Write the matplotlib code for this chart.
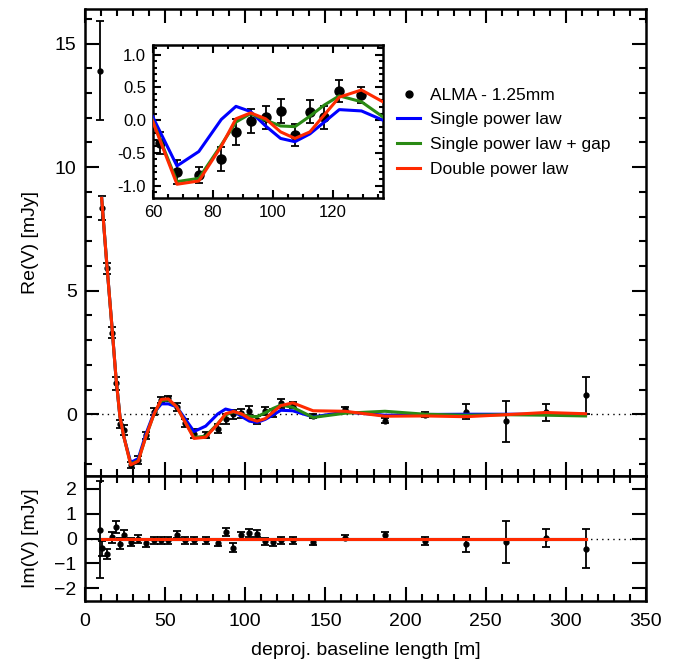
import numpy as np
import matplotlib
matplotlib.use("Agg")
import matplotlib.pyplot as plt
from matplotlib.ticker import MultipleLocator
from matplotlib.lines import Line2D

plt.rcParams['font.family'] = ['Liberation Sans', 'DejaVu Sans']

# ---------------- data ----------------
re_x = [9.4, 10.4, 13.7, 17.0, 19.3, 21.8, 24.2, 28.5, 33.2, 38.0, 43.0, 47.6, 52.0,
        57.2, 62.4, 68.0, 75.3, 82.8, 87.7, 92.6, 97.6, 102.6, 107.4, 112.4, 117.2,
        122.2, 129.6, 142.3, 162.2, 187.1, 212.3, 237.5, 262.5, 287.4, 312.3]
re_y = [13.9, 8.35, 5.9, 3.3, 1.25, -0.4, -0.65, -2.06, -1.86, -0.85, 0.1, 0.57, 0.64,
        0.3, -0.35, -0.79, -0.84, -0.59, -0.18, -0.01, 0.04, 0.14, -0.23, 0.13, 0.04,
        0.44, 0.38, -0.06, 0.23, -0.27, -0.03, 0.1, -0.29, 0.07, 0.77]
re_err = [2.0, 0.5, 0.22, 0.22, 0.27, 0.17, 0.2, 0.12, 0.15, 0.15, 0.15, 0.12, 0.1,
          0.15, 0.17, 0.18, 0.12, 0.18, 0.2, 0.18, 0.18, 0.18, 0.17, 0.17, 0.17,
          0.17, 0.12, 0.08, 0.08, 0.1, 0.1, 0.3, 0.82, 0.36, 0.75]

im_y = [0.36, -0.4, -0.64, 0.05, 0.47, -0.21, 0.16, -0.15, -0.01, -0.2, -0.08, -0.07, -0.08,
        0.16, -0.07, -0.07, -0.07, -0.17, 0.27, -0.37, 0.13, 0.23, 0.2, -0.11, -0.16,
        -0.08, -0.07, -0.16, 0.03, 0.13, -0.11, -0.24, -0.13, 0.03, -0.41]
im_err = [1.97, 0.3, 0.2, 0.22, 0.25, 0.23, 0.17, 0.17, 0.17, 0.13, 0.15, 0.15, 0.15,
          0.14, 0.15, 0.15, 0.15, 0.15, 0.15, 0.17, 0.15, 0.15, 0.15, 0.15, 0.15,
          0.15, 0.15, 0.1, 0.1, 0.15, 0.17, 0.3, 0.85, 0.36, 0.78]

mod_x = [10.4, 13.7, 17.0, 19.3, 21.8, 24.2, 28.5, 33.2, 38.0, 43.0, 47.6, 52.0, 57.2,
         68.0, 75.3, 82.8, 87.7, 92.6, 97.6, 102.6, 107.4, 112.4, 117.2, 122.2, 129.6,
         142.3, 162.2, 187.1, 212.3, 237.5, 262.5, 287.4, 312.3]
single_pl = [8.74, 6.0, 3.4, 1.5, -0.1, -0.9, -1.95, -1.8, -0.8, 0.05, 0.42, 0.42, 0.3,
             -0.70, -0.48, 0.01, 0.21, 0.13, -0.09, -0.28, -0.33, -0.21, -0.03, 0.16, 0.14,
             -0.11, 0.09, -0.04, -0.01, 0.0, 0.0, 0.0, 0.0]
single_pl_gap = [8.74, 6.0, 3.4, 1.5, -0.1, -0.9, -2.02, -1.88, -0.9, 0.0, 0.55, 0.58, 0.3,
                 -0.94, -0.89, -0.38, -0.03, 0.1, 0.0, -0.09, -0.1, 0.06, 0.23, 0.37, 0.28,
                 -0.13, 0.04, 0.12, 0.0, -0.04, -0.02, -0.04, -0.07]
double_pl = [8.74, 6.0, 3.4, 1.5, -0.1, -0.9, -2.05, -1.9, -0.9, 0.0, 0.6, 0.62, 0.3,
             -0.98, -0.93, -0.4, 0.02, 0.11, 0.02, -0.18, -0.28, -0.18, 0.08, 0.35, 0.46,
             0.14, 0.12, -0.08, -0.07, -0.1, -0.02, 0.07, 0.02]
model_im = [0.0] * len(mod_x)

labels = ['ALMA - 1.25mm', 'Single power law', 'Single power law + gap', 'Double power law']
colors = ['#0000ff', '#2a8a14', '#ff2a00']

# ---------------- figure ----------------
W, H = 685, 666
fig = plt.figure(figsize=(W / 100, H / 100), dpi=100)

def frac(x0, y0, x1, y1):
    return [x0 / W, 1 - y1 / H, (x1 - x0) / W, (y1 - y0) / H]

ax = fig.add_axes(frac(85, 9, 646, 476))
axb = fig.add_axes(frac(85, 476, 646, 601))
axi = fig.add_axes(frac(153, 45, 383, 198))

def style(a, size, major_len=10, minor_len=5, pad=4):
    for s in a.spines.values():
        s.set_linewidth(1.8)
    a.tick_params(which='both', direction='in', top=True, right=True, width=1.5,
                  labelsize=size, pad=pad)
    a.tick_params(which='major', length=major_len)
    a.tick_params(which='minor', length=minor_len)

# main panel
ax.axhline(0, color='black', ls=(0, (1, 3)), lw=1.0, zorder=1)
ax.errorbar(re_x, re_y, yerr=re_err, fmt='o', color='black', ms=3.5, capsize=3,
            elinewidth=1.3, capthick=1.3, zorder=2)
for yv, c in zip([single_pl, single_pl_gap, double_pl], colors):
    ax.plot(mod_x, yv, color=c, lw=2.2, zorder=3)
ax.set_xlim(0, 350)
ax.set_ylim(-2.5, 16.4)
ax.xaxis.set_major_locator(MultipleLocator(50))
ax.xaxis.set_minor_locator(MultipleLocator(10))
ax.yaxis.set_major_locator(MultipleLocator(5))
ax.yaxis.set_minor_locator(MultipleLocator(1))
style(ax, 14, pad=6)
ax.tick_params(labelbottom=False)
ax.set_ylabel('Re(V) [mJy]', fontsize=14)
ax.yaxis.set_label_coords(-0.082, 0.5)

leg_handles = [Line2D([], [], marker='o', color='black', ls='none', ms=5)] + \
              [Line2D([], [], color=c, lw=2.2) for c in colors]
ax.legend(leg_handles, labels, loc='upper left', bbox_to_anchor=(0.556, 0.832),
          frameon=False, fontsize=12.5, handlelength=1.35, handletextpad=0.55,
          labelspacing=0.56, borderaxespad=0, borderpad=0)

# bottom panel
axb.axhline(0, color='black', ls=(0, (1, 3)), lw=1.0, zorder=1)
axb.errorbar(re_x, im_y, yerr=im_err, fmt='o', color='black', ms=3.5, capsize=3,
             elinewidth=1.3, capthick=1.3, zorder=2)
for yv, c in zip([model_im, model_im, model_im], colors):
    axb.plot(mod_x, yv, color=c, lw=2.2, zorder=3)
axb.set_xlim(0, 350)
axb.set_ylim(-2.52, 2.52)
axb.xaxis.set_major_locator(MultipleLocator(50))
axb.xaxis.set_minor_locator(MultipleLocator(10))
axb.yaxis.set_major_locator(MultipleLocator(1))
style(axb, 14, pad=6)
axb.tick_params(axis='x', pad=9)
axb.set_ylabel('Im(V) [mJy]', fontsize=14)
axb.yaxis.set_label_coords(-0.082, 0.5)
axb.set_xlabel('deproj. baseline length [m]', fontsize=14, labelpad=8)

# inset
axi.errorbar(re_x, re_y, yerr=re_err, fmt='o', color='black', ms=6.5, capsize=3,
             elinewidth=1.3, capthick=1.3, zorder=2)
for yv, c in zip([single_pl, single_pl_gap, double_pl], colors):
    axi.plot(mod_x, yv, color=c, lw=2.2, zorder=3)
axi.set_xlim(60, 136.8)
axi.set_ylim(-1.19, 1.147)
axi.xaxis.set_major_locator(MultipleLocator(20))
axi.xaxis.set_minor_locator(MultipleLocator(5))
axi.yaxis.set_minor_locator(MultipleLocator(0.1))
axi.set_yticks([-1.0, -0.5, 0.0, 0.5, 1.0])
axi.set_yticklabels(['-1.0', '-0.5', '0.0', '0.5', '1.0'])
style(axi, 12, major_len=6, minor_len=3, pad=5)
axi.set_facecolor('white')

fig.savefig('out.png', dpi=100)
